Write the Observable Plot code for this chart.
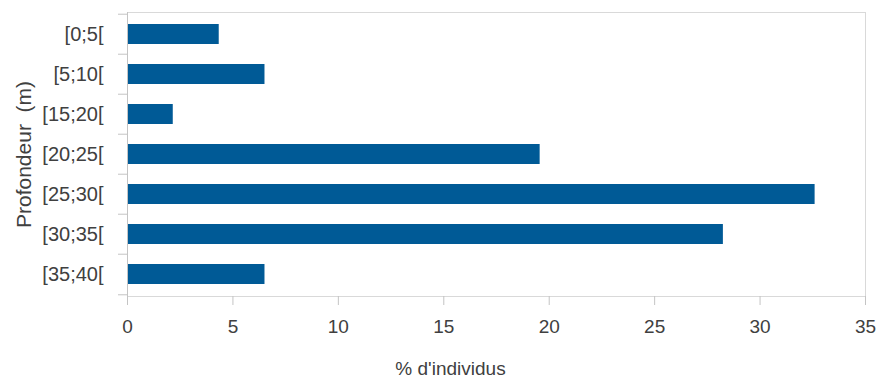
<!DOCTYPE html>
<html>
<head>
<meta charset="utf-8">
<script src="https://cdn.jsdelivr.net/npm/d3@7"></script>
<script src="https://cdn.jsdelivr.net/npm/@observablehq/plot@0.6"></script>
<style>
  html, body { margin: 0; padding: 0; background: #ffffff; }
  #chart svg { display: block; }
</style>
</head>
<body>
<div id="chart"></div>
<script>
const categories = ["[0;5[", "[5;10[", "[15;20[", "[20;25[", "[25;30[", "[30;35[", "[35;40["];
const values = [4.35, 6.52, 2.17, 19.57, 32.61, 28.26, 6.52];
const xTicks = [0, 5, 10, 15, 20, 25, 30, 35];
const xTitle = "% d'individus";
const yTitle = "Profondeur  (m)";

const data = categories.map((c, i) => ({cat: c, value: values[i]}));

const W = 876, H = 378;
const mL = 127, mR = 11, mT = 12, mB = 82;
const step = (H - mT - mB) / categories.length;

const textColor = "#404040";
const axisGray = "#c4c4c4";
const frameGray = "#d9d9d9";

const chart = Plot.plot({
  width: W,
  height: H,
  marginLeft: mL,
  marginRight: mR,
  marginTop: mT,
  marginBottom: mB,
  style: {fontFamily: "'Liberation Sans', Arial, sans-serif", color: textColor, background: "#ffffff", overflow: "visible"},
  x: {domain: [0, 35]},
  y: {domain: categories, paddingInner: 0.5, paddingOuter: 0.25},
  marks: [
    Plot.frame({stroke: frameGray}),
    Plot.barX(data, {x: "value", y: "cat", fill: "#005a96"}),
    Plot.ruleY(categories, {y: d => d, x1: 0, x2: 0, dy: -step / 2, insetLeft: -9, stroke: axisGray}),
    Plot.ruleY(categories.slice(-1), {y: d => d, x1: 0, x2: 0, dy: step / 2, insetLeft: -9, stroke: axisGray}),
    Plot.ruleX([0], {stroke: axisGray}),
    Plot.axisX({ticks: xTicks, tickSize: 9, tickPadding: 14, stroke: axisGray, fill: textColor, fontSize: 19, label: null, tickFormat: d => String(d)}),
    Plot.axisY({tickSize: 0, tickPadding: 24, fontSize: 20, fill: textColor, label: null}),
    Plot.text([xTitle], {frameAnchor: "bottom", textAnchor: "middle", lineAnchor: "middle", dx: -46, dy: 72, fontSize: 19, fill: textColor}),
    Plot.text([yTitle], {frameAnchor: "left", textAnchor: "middle", lineAnchor: "middle", rotate: -90, dx: -103, dy: 0, fontSize: 21, fill: textColor})
  ]
});

chart.querySelectorAll("text").forEach(t => t.style.whiteSpace = "pre");
document.getElementById("chart").appendChild(chart);
</script>
</body>
</html>
